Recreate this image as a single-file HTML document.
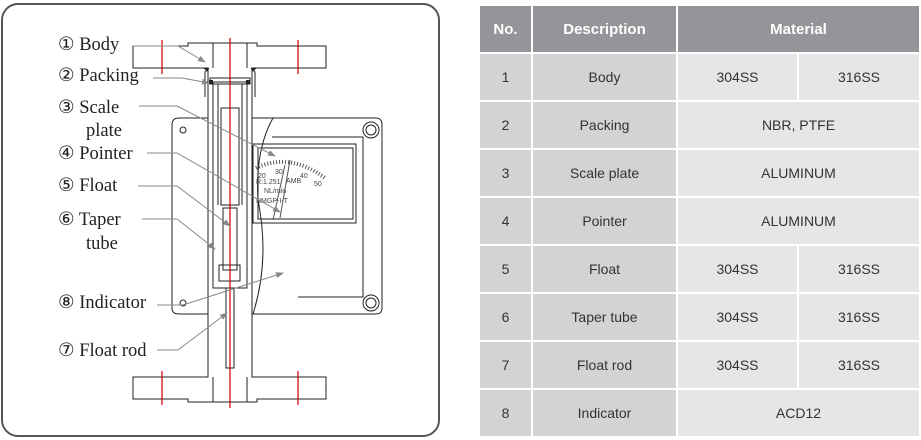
<!DOCTYPE html>
<html><head><meta charset="utf-8"><style>
body{margin:0;width:921px;height:440px;background:#fff;overflow:hidden;position:relative;font-family:"Liberation Sans",sans-serif}
table{position:absolute;left:478px;top:4px;border-collapse:separate;border-spacing:2px;font-size:14px;color:#333}
td,th{text-align:center;padding:0}
th{background:#939598;color:#fff;font-weight:bold;height:46px;font-size:15px}
td{height:46px}
.g{background:#d3d3d5}.l{background:#e6e6e8}
</style></head><body>
<svg width="450" height="440" style="position:absolute;left:0;top:0" font-family="Liberation Serif,serif" font-size="18.5">
<defs><marker id="a" markerWidth="8" markerHeight="6" refX="7" refY="3" orient="auto"><path d="M0,0L8,3L0,6z" fill="#888"/></marker></defs>
<rect x="2" y="4" width="437" height="432" rx="16" fill="#fff" stroke="#555" stroke-width="2"/>
<g fill="none" stroke="#222" stroke-width="1">
<path d="M188,43H257V46H326V68H252V377H326V399H257V402H188V399H133V377H208V68H133V46H188Z" fill="#fff"/>
<line x1="213" y1="43" x2="213" y2="68"/><line x1="247" y1="43" x2="247" y2="68"/>
<line x1="213" y1="377" x2="213" y2="402"/><line x1="247" y1="377" x2="247" y2="402"/>
<path d="M172,125Q172,118 179,118H208M252,118H376Q382,118 382,125V308Q382,314 376,314H252M208,314H179Q172,314 172,308V125"/>
<path d="M273,118Q255,150 258,200Q270,260 253,314"/>
<rect x="253" y="144" width="103" height="79"/><rect x="258" y="148" width="95" height="71"/>
<path d="M272,137H363V297H298"/>
<circle cx="371" cy="130" r="8"/><circle cx="371" cy="130" r="5"/><circle cx="371" cy="303" r="8"/><circle cx="371" cy="303" r="5"/>
<circle cx="183" cy="130" r="3"/><circle cx="183" cy="303" r="3"/>
<rect x="213" y="82" width="34" height="206"/><rect x="210" y="78" width="40" height="6"/>
<path d="M218,84V205M242,84V205"/>
<rect x="221" y="108" width="18" height="97"/>
<rect x="223" y="208" width="14" height="62"/><rect x="219" y="265" width="21" height="16"/>
<rect x="226" y="288" width="8" height="80"/>
<path d="M209,68L205,72V97M251,68L255,72V97"/>
</g>
<path d="M203,68L208,72V68ZM257,68L252,72V68Z" fill="#222"/>
<rect x="209" y="80" width="4" height="4" fill="#222"/><rect x="246" y="80" width="4" height="4" fill="#222"/>
<g stroke="#c00" stroke-width="1.2"><line x1="230" y1="38" x2="230" y2="408"/><line x1="162" y1="40" x2="162" y2="74"/><line x1="298" y1="40" x2="298" y2="74"/><line x1="162" y1="371" x2="162" y2="405"/><line x1="298" y1="371" x2="298" y2="405"/></g>
<path d="M256,168Q290,152 325,178" fill="none" stroke="#555" stroke-width="4" stroke-dasharray="1 2"/>
<g font-family="Liberation Sans,sans-serif" font-size="7" fill="#444"><text x="258" y="178">20</text><text x="275" y="174">30</text><text x="300" y="178">40</text><text x="314" y="186">50</text><text x="256" y="184">R:1.251</text><text x="286" y="183">AMB</text><text x="264" y="193">NL/min</text><text x="256" y="203">NMGP-I-T</text></g>
<line x1="290" y1="160" x2="280" y2="218" stroke="#555"/><line x1="285" y1="165" x2="273" y2="220" stroke="#555"/>
<g fill="none" stroke="#888" stroke-width="1" marker-end="url(#a)">
<polyline points="133,46 178,46 205,62"/><polyline points="153,78 182,78 209,83"/><polyline points="139,106 177,106 275,156"/><polyline points="147,153 177,153 280,212"/><polyline points="138,186 177,186 230,226"/><polyline points="142,219 177,219 215,249"/><polyline points="157,305 183,305 283,273"/><polyline points="157,350 178,350 227,313"/>
</g>
<g fill="#222"><text x="58" y="50">① Body</text><text x="58" y="81">② Packing</text><text x="58" y="113">③ Scale</text><text x="86" y="136">plate</text><text x="58" y="159">④ Pointer</text><text x="58" y="191">⑤ Float</text><text x="58" y="225">⑥ Taper</text><text x="86" y="249">tube</text><text x="58" y="308">⑧ Indicator</text><text x="58" y="356">⑦ Float rod</text></g>
</svg>
<table>
<tr><th style="width:51px">No.</th><th style="width:143px">Description</th><th colspan="2">Material</th></tr>
<tr><td class="g">1</td><td class="g">Body</td><td class="l" style="width:119px">304SS</td><td class="l" style="width:120px">316SS</td></tr>
<tr><td class="g">2</td><td class="g">Packing</td><td class="l" colspan="2">NBR, PTFE</td></tr>
<tr><td class="g">3</td><td class="g">Scale plate</td><td class="l" colspan="2">ALUMINUM</td></tr>
<tr><td class="g">4</td><td class="g">Pointer</td><td class="l" colspan="2">ALUMINUM</td></tr>
<tr><td class="g">5</td><td class="g">Float</td><td class="l">304SS</td><td class="l">316SS</td></tr>
<tr><td class="g">6</td><td class="g">Taper tube</td><td class="l">304SS</td><td class="l">316SS</td></tr>
<tr><td class="g">7</td><td class="g">Float rod</td><td class="l">304SS</td><td class="l">316SS</td></tr>
<tr><td class="g">8</td><td class="g">Indicator</td><td class="l" colspan="2">ACD12</td></tr>
</table>
</body></html>
